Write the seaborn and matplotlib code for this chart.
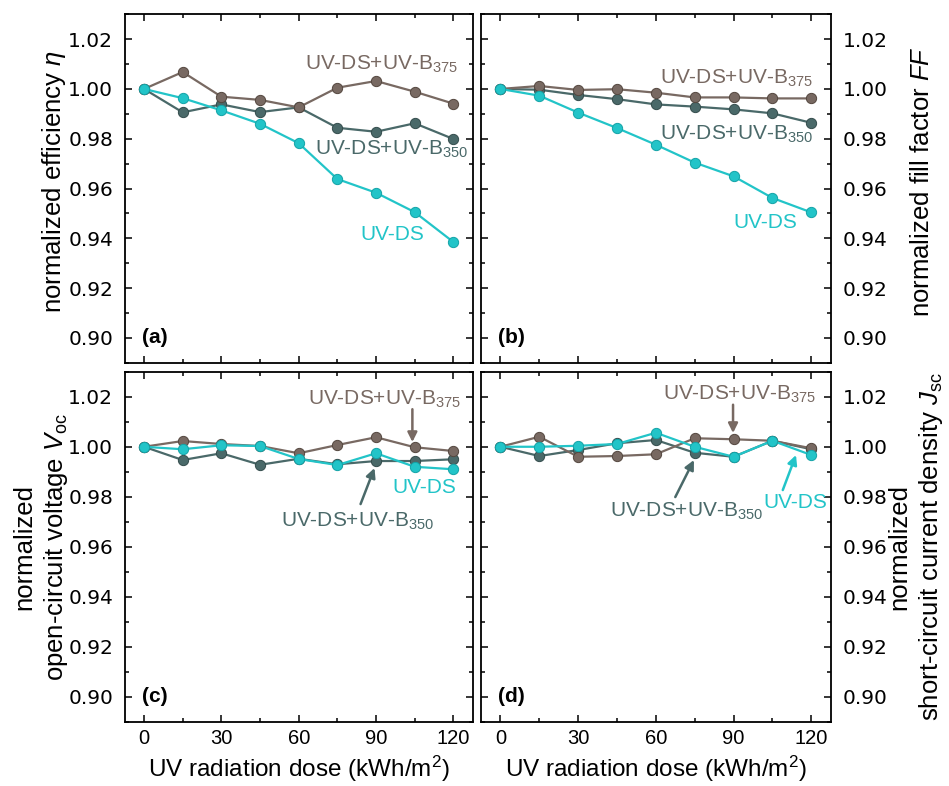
import matplotlib
matplotlib.use("Agg")
import matplotlib.pyplot as plt
import seaborn as sns
import pandas as pd
from matplotlib.ticker import MultipleLocator, FormatStrFormatter

# ---------------- data ----------------
dose = [0, 15, 30, 45, 60, 75, 90, 105, 120]
series_names = ["UV-DS+UV-B350", "UV-DS+UV-B375", "UV-DS"]

eta_uvds = [1.000, 0.9963, 0.9914, 0.9860, 0.9782, 0.9638, 0.9583, 0.9505, 0.9385]
eta_b375 = [1.000, 1.0068, 0.9969, 0.9956, 0.9926, 1.0005, 1.0032, 0.9989, 0.9941]
eta_b350 = [1.000, 0.9906, 0.9938, 0.9907, 0.9926, 0.9844, 0.9828, 0.9862, 0.9799]

ff_uvds = [1.000, 0.9973, 0.9905, 0.9843, 0.9776, 0.9704, 0.9649, 0.9562, 0.9504]
ff_b375 = [1.000, 1.0012, 0.9996, 0.9999, 0.9985, 0.9966, 0.9966, 0.9962, 0.9962]
ff_b350 = [1.000, 0.9997, 0.9976, 0.9959, 0.9938, 0.9929, 0.9918, 0.9902, 0.9864]

voc_uvds = [1.000, 0.9990, 1.0006, 1.0003, 0.9951, 0.9927, 0.9974, 0.9920, 0.9910]
voc_b375 = [1.000, 1.0023, 1.0011, 1.0003, 0.9974, 1.0007, 1.0038, 0.9998, 0.9983]
voc_b350 = [1.000, 0.9947, 0.9974, 0.9928, 0.9952, 0.9930, 0.9943, 0.9943, 0.9950]

jsc_uvds = [1.000, 1.0000, 1.0004, 1.0011, 1.0056, 1.0000, 0.9960, 1.0024, 0.9967]
jsc_b375 = [1.000, 1.0040, 0.9960, 0.9963, 0.9970, 1.0034, 1.0030, 1.0024, 0.9994]
jsc_b350 = [1.000, 0.9963, 0.9987, 1.0014, 1.0027, 0.9976, 0.9960, 1.0024, 0.9990]

yticks = [0.90, 0.92, 0.94, 0.96, 0.98, 1.00, 1.02]
xticks = [0, 30, 60, 90, 120]

# ---------------- style ----------------
sns.set_theme(style="ticks", rc={"text.color": "black", "axes.labelcolor": "black",
                                 "xtick.color": "black", "ytick.color": "black",
                                 "axes.edgecolor": "black"})
plt.rcParams["font.family"] = ["Liberation Sans", "DejaVu Sans"]
plt.rcParams["mathtext.fontset"] = "custom"
plt.rcParams["mathtext.rm"] = "Liberation Sans"
plt.rcParams["mathtext.it"] = "Liberation Sans:italic"
plt.rcParams["mathtext.bf"] = "Liberation Sans:bold"

c_b375 = "#786962"
c_b350 = "#4a6969"
c_uvds = "#22c4c8"
palette = {"UV-DS+UV-B350": c_b350, "UV-DS+UV-B375": c_b375, "UV-DS": c_uvds}
edge = {"UV-DS+UV-B350": "#344c4c", "UV-DS+UV-B375": "#54473f", "UV-DS": "#14a3a7"}

W, H = 949, 786
fig = plt.figure(figsize=(W / 100, H / 100), dpi=100)

def ax_rect(l, t, r, b):
    return [l / W, 1 - b / H, (r - l) / W, (b - t) / H]

axA = fig.add_axes(ax_rect(124.7, 14.3, 472.7, 362.7))
axB = fig.add_axes(ax_rect(481.0, 14.3, 830.7, 362.7))
axC = fig.add_axes(ax_rect(124.7, 371.7, 472.7, 722.0))
axD = fig.add_axes(ax_rect(481.0, 371.7, 830.7, 722.0))

panels = [
    (axA, eta_b350, eta_b375, eta_uvds, "(a)"),
    (axB, ff_b350, ff_b375, ff_uvds, "(b)"),
    (axC, voc_b350, voc_b375, voc_uvds, "(c)"),
    (axD, jsc_b350, jsc_b375, jsc_uvds, "(d)"),
]

for ax, s350, s375, sds, lab in panels:
    df = pd.DataFrame({
        "dose": dose * 3,
        "value": list(s350) + list(s375) + list(sds),
        "series": [series_names[0]] * 9 + [series_names[1]] * 9 + [series_names[2]] * 9,
    })
    for name in series_names:
        sub = df[df["series"] == name]
        sns.lineplot(data=sub, x="dose", y="value", ax=ax, color=palette[name],
                     lw=1.6, marker="o", markersize=7.4,
                     markeredgecolor=edge[name], markeredgewidth=0.7,
                     legend=False, zorder=3)
    ax.set_xlim(-7.5, 127.5)
    ax.set_ylim(0.89, 1.03)
    ax.set_xticks(xticks)
    ax.xaxis.set_minor_locator(MultipleLocator(15))
    ax.set_yticks(yticks)
    ax.yaxis.set_minor_locator(MultipleLocator(0.01))
    ax.yaxis.set_major_formatter(FormatStrFormatter("%.2f"))
    ax.tick_params(which="both", direction="in", top=True, right=True,
                   left=True, bottom=True, width=1.1, colors="black")
    ax.tick_params(which="major", length=5)
    ax.tick_params(which="minor", length=2.8)
    ax.tick_params(axis="y", which="major", pad=8.4, labelsize=14.5,
                   labelfontfamily="DejaVu Sans")
    ax.tick_params(axis="x", which="major", pad=5, labelsize=14.5,
                   labelfontfamily="Liberation Sans")
    for sp in ax.spines.values():
        sp.set_linewidth(1.3)
        sp.set_color("black")
    ax.set_xlabel("")
    ax.set_ylabel("")
    ax.text(0.05, 0.057, lab, transform=ax.transAxes, fontsize=15,
            fontweight="bold", ha="left", va="baseline")

for ax in (axA, axB):
    ax.tick_params(labelbottom=False)
for ax in (axB, axD):
    ax.tick_params(labelleft=False, labelright=True)
for ax in (axC, axD):
    ax.set_xlabel("UV radiation dose (kWh/m$^2$)", fontsize=17.5, labelpad=4)

# y labels
lab_fs = 18.5
fig.text(54 / W, 1 - 182 / H, r"normalized efficiency $\it{\eta}$", rotation=90,
         ha="center", va="center", fontsize=lab_fs)
fig.text(922 / W, 1 - 182 / H, r"normalized fill factor $\it{FF}$", rotation=90,
         ha="center", va="center", fontsize=lab_fs)
fig.text(41 / W, 1 - 547 / H, "normalized\nopen-circuit voltage $V_{\\rm oc}$", rotation=90,
         ha="center", va="center", fontsize=lab_fs, multialignment="center",
         linespacing=1.25)
fig.text(916 / W, 1 - 547 / H, "normalized\nshort-circuit current density $J_{\\rm sc}$",
         rotation=90, ha="center", va="center", fontsize=lab_fs,
         multialignment="center", linespacing=1.25)

# annotations
ann_fs = 15
t375 = "UV-DS+UV-B$_{375}$"
t350 = "UV-DS+UV-B$_{350}$"
tds = "UV-DS"

def label(ax, x, y, s, c):
    ax.text(x, y, s, color=c, fontsize=ann_fs, ha="left", va="baseline")

def arrow(ax, tail, tip, c):
    ax.annotate("", xy=tip, xytext=tail,
                arrowprops=dict(arrowstyle="-|>", color=c, lw=1.8,
                                mutation_scale=14, shrinkA=0, shrinkB=0))

label(axA, 62.6, 1.0078, t375, c_b375)
label(axA, 66.2, 0.9735, t350, c_b350)
label(axA, 84.0, 0.9393, tds, c_uvds)

label(axB, 61.6, 1.0023, t375, c_b375)
label(axB, 61.6, 0.9798, t350, c_b350)
label(axB, 89.8, 0.9440, tds, c_uvds)

label(axC, 63.8, 1.0167, t375, c_b375)
arrow(axC, (104.1, 1.0150), (104.1, 1.0019), c_b375)
label(axC, 53.0, 0.9680, t350, c_b350)
arrow(axC, (84.0, 0.9771), (89.4, 0.9915), c_b350)
label(axC, 96.4, 0.9814, tds, c_uvds)

label(axD, 62.7, 1.0187, t375, c_b375)
arrow(axD, (89.8, 1.0168), (89.8, 1.0055), c_b375)
label(axD, 42.3, 0.9720, t350, c_b350)
arrow(axD, (67.5, 0.9799), (74.7, 0.9947), c_b350)
label(axD, 101.5, 0.9754, tds, c_uvds)
arrow(axD, (109.0, 0.9827), (114.1, 0.9967), c_uvds)

fig.savefig("out.png", dpi=100)
